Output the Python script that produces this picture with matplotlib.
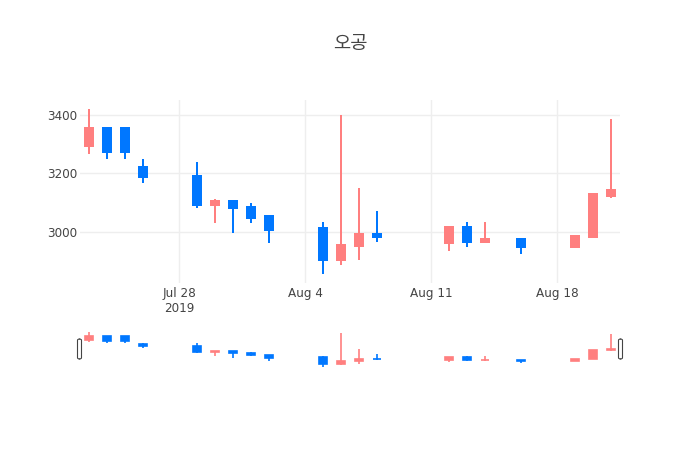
import matplotlib
matplotlib.use("Agg")
import matplotlib.pyplot as plt
import matplotlib.dates as mdates
from matplotlib.patches import FancyBboxPatch
import numpy as np
import datetime as dt

# ---- data ----
dates = ["2019-07-23", "2019-07-24", "2019-07-25", "2019-07-26",
         "2019-07-29", "2019-07-30", "2019-07-31", "2019-08-01", "2019-08-02",
         "2019-08-05", "2019-08-06", "2019-08-07", "2019-08-08",
         "2019-08-12", "2019-08-13", "2019-08-14", "2019-08-16",
         "2019-08-19", "2019-08-20", "2019-08-21"]
opens  = [3293, 3354, 3354, 3223, 3192, 3091, 3106, 3086, 3052,
          3011, 2904, 2951, 2992, 2961, 3016, 2966, 2976, 2946, 2980, 3122]
highs  = [3420, 3354, 3354, 3250, 3240, 3113, 3106, 3099, 3052,
          3032, 3400, 3148, 3069, 3016, 3033, 3033, 2976, 2990, 3130, 3386]
lows   = [3265, 3250, 3250, 3165, 3080, 3029, 2994, 3029, 2960,
          2855, 2884, 2904, 2964, 2933, 2948, 2960, 2923, 2946, 2980, 3114]
closes = [3354, 3272, 3272, 3187, 3092, 3106, 3080, 3046, 3006,
          2904, 2955, 2992, 2982, 3016, 2966, 2976, 2946, 2986, 3128, 3141]
title = "오공"
xticks = ["2019-07-28", "2019-08-04", "2019-08-11", "2019-08-18"]
xticklabels = ["Jul 28\n2019", "Aug 4", "Aug 11", "Aug 18"]
yticks = [3000, 3200, 3400]

INC = "#FF7F7F"
DEC = "#0077FF"
GRID = "#eeeeee"
TXT = "#444444"

plt.rcParams['font.family'] = ['DejaVu Sans', 'Noto Sans CJK KR']

W, H = 700, 450
fig = plt.figure(figsize=(7, 4.5), dpi=100)

def fx(px):
    return px / W

def fy(py):
    return 1 - py / H

x = mdates.date2num([dt.datetime.strptime(d, "%Y-%m-%d") for d in dates])
xmin = x[0] - 0.5
xmax = x[-1] + 0.5
ylo, yhi = 2824, 3451


def draw(ax, lw):
    for xi, o, h, l, c in zip(x, opens, highs, lows, closes):
        col = INC if c >= o else DEC
        ax.vlines(xi, l, h, color=col, linewidth=lw, zorder=2)
        ax.bar(xi, abs(c - o), bottom=min(o, c), width=0.48, color=col,
               edgecolor=col, linewidth=lw, zorder=3)
    ax.set_xlim(xmin, xmax)
    ax.set_ylim(ylo, yhi)
    for s in ax.spines.values():
        s.set_visible(False)


# main axes
ax = fig.add_axes([fx(80), fy(283), fx(540), (283 - 100) / H])
draw(ax, 1.44)
ax.set_xticks(mdates.date2num([dt.datetime.strptime(d, "%Y-%m-%d") for d in xticks]))
ax.set_xticklabels(xticklabels, color=TXT, fontsize=8.64, ha="center",
                   multialignment="center")
ax.set_yticks(yticks)
ax.set_yticklabels([str(v) for v in yticks], color=TXT, fontsize=8.64)
ax.tick_params(axis="both", length=0)
ax.tick_params(axis="x", pad=3)
ax.tick_params(axis="y", pad=2)
ax.grid(True, color=GRID, linewidth=1)
ax.set_axisbelow(True)

# range slider
axs = fig.add_axes([fx(80), fy(369), fx(540), (369 - 330) / H])
draw(axs, 1.2)
axs.set_xticks([])
axs.set_yticks([])

for hx in (77.5, 618.5):
    p = FancyBboxPatch((fx(hx), fy(359)), fx(4), (359 - 339) / H,
                       boxstyle="round,pad=0,rounding_size=0.003",
                       transform=fig.transFigure, facecolor="white",
                       edgecolor=TXT, linewidth=0.8, zorder=10)
    fig.patches.append(p)

fig.text(0.5, fy(43), title, ha="center", va="center", fontsize=13.5,
         color=TXT)

fig.savefig("out.png", dpi=100, facecolor="white")
